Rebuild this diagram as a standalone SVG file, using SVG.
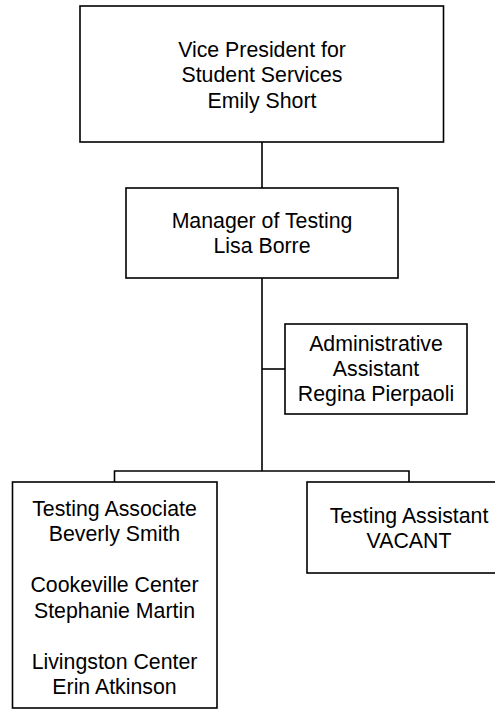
<svg xmlns="http://www.w3.org/2000/svg" width="495" height="709" viewBox="0 0 495 709">
<style>
.box{fill:#fff;stroke:#000;stroke-width:1.6}
.ln{fill:none;stroke:#000;stroke-width:1.6}
text{font-family:"Liberation Sans",Arial,sans-serif;font-size:21.3px;fill:#000;text-anchor:middle}
</style>
<rect width="495" height="709" fill="#fff"/>
<g id="connectors">
<line class="ln" x1="262" y1="142" x2="262" y2="188"/>
<line class="ln" x1="262" y1="278" x2="262" y2="471"/>
<line class="ln" x1="262" y1="369" x2="285" y2="369"/>
<polyline class="ln" points="114.5,482 114.5,471 409,471 409,482"/>
</g>
<g id="vp">
<rect class="box" x="80" y="6" width="363.5" height="136"/>
<text x="262" y="56.5">Vice President for</text>
<text x="262" y="82">Student Services</text>
<text x="262" y="107.5">Emily Short</text>
</g>
<g id="manager">
<rect class="box" x="126" y="188" width="272" height="90"/>
<text x="262" y="227.5">Manager of Testing</text>
<text x="262" y="252.5">Lisa Borre</text>
</g>
<g id="admin">
<rect class="box" x="285" y="324" width="182" height="90"/>
<text x="376" y="350.5">Administrative</text>
<text x="376" y="375.5">Assistant</text>
<text x="376" y="400.5">Regina Pierpaoli</text>
</g>
<g id="associate">
<rect class="box" x="12.5" y="482" width="204.5" height="226"/>
<text x="114.5" y="515.5">Testing Associate</text>
<text x="114.5" y="541">Beverly Smith</text>
<text x="114.5" y="592">Cookeville Center</text>
<text x="114.5" y="617.5">Stephanie Martin</text>
<text x="114.5" y="668.5">Livingston Center</text>
<text x="114.5" y="694">Erin Atkinson</text>
</g>
<g id="assistant">
<rect class="box" x="307" y="482" width="204" height="91"/>
<text x="409" y="522.5">Testing Assistant</text>
<text x="409" y="548">VACANT</text>
</g>
</svg>
